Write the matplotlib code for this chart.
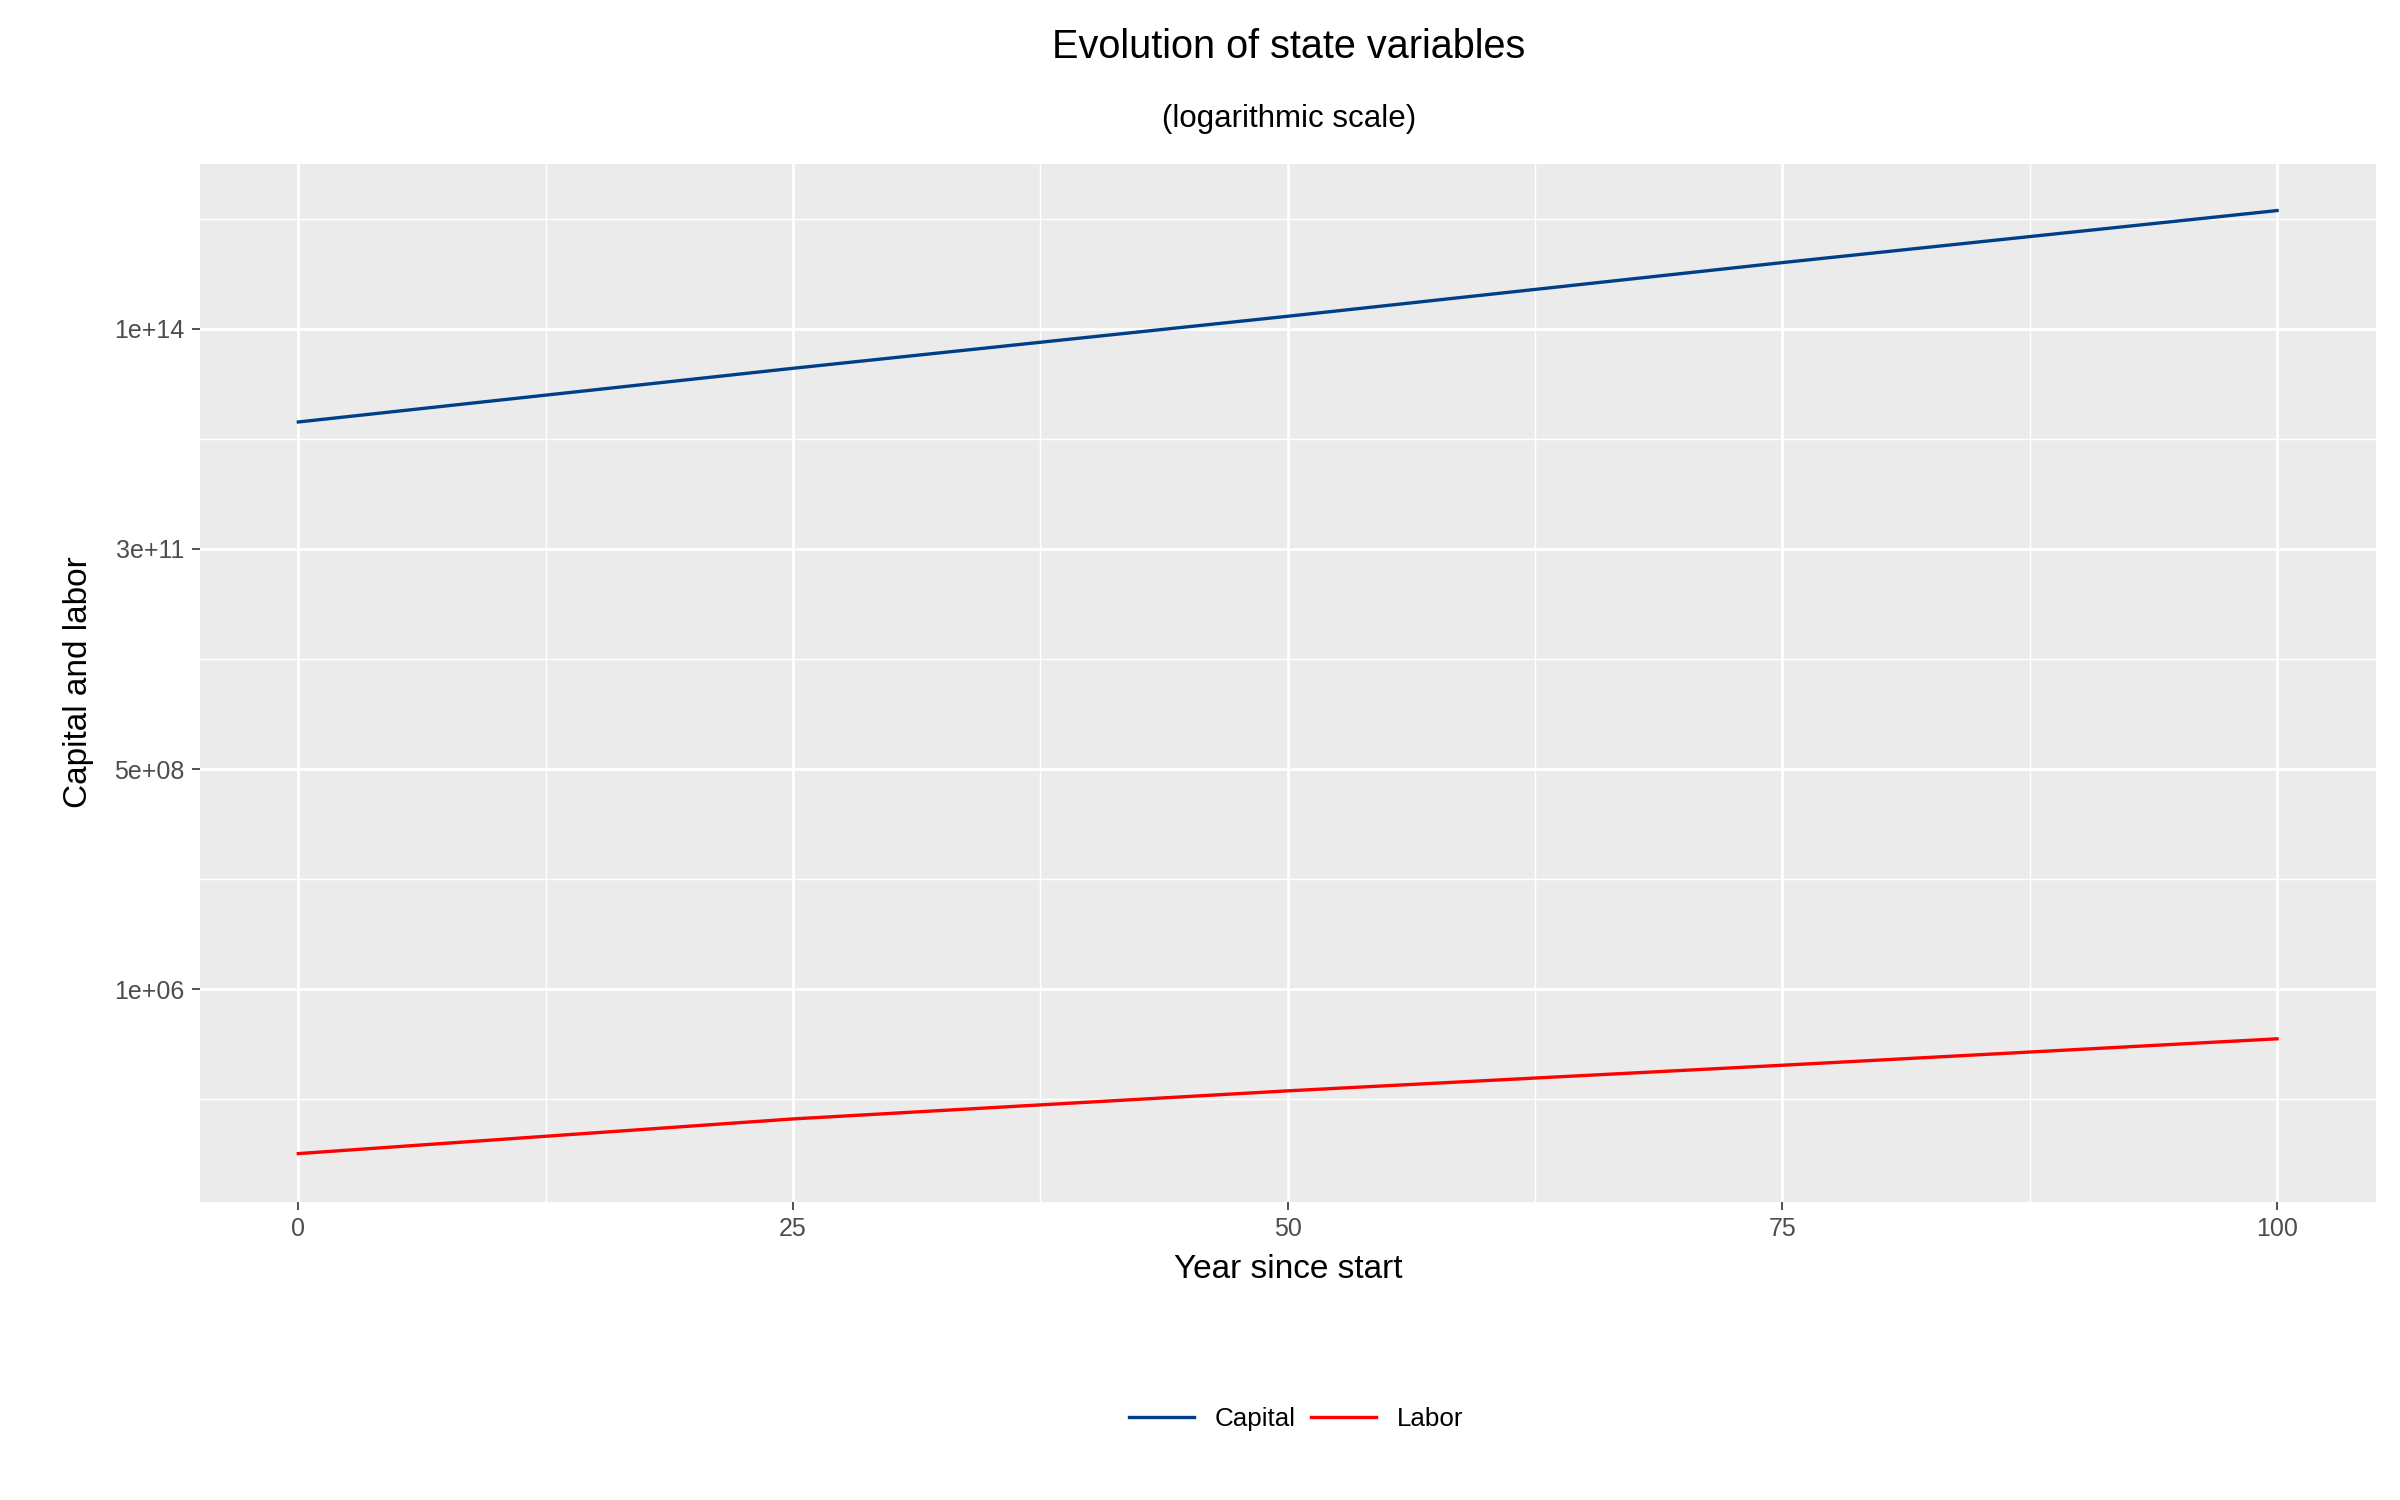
import matplotlib.pyplot as plt
import numpy as np

plt.rcParams['font.family'] = ['Liberation Sans', 'DejaVu Sans']

years = [0, 25, 50, 75, 100]
capital_log10 = [12.87, 13.52, 14.15, 14.80, 15.43]
labor_log10 = [4.01, 4.43, 4.77, 5.08, 5.40]
tick_exps = [6, 6 + 8 / 3, 6 + 16 / 3, 14]
tick_labels = ["1e+06", "5e+08", "3e+11", "1e+14"]

fig = plt.figure(figsize=(16, 10), dpi=150)
ax = fig.add_axes([0.0835, 0.199, 0.9065, 0.692])
ax.set_facecolor("#EBEBEB")
ax.set_yscale("log")

ax.plot(years, 10 ** np.array(capital_log10), color="#003F87", lw=1.6, label="Capital")
ax.plot(years, 10 ** np.array(labor_log10), color="#FF0000", lw=1.6, label="Labor")

ax.set_xlim(-4.95, 105)
ax.set_ylim(10 ** 3.43, 10 ** 16.0)
ax.set_xticks([0, 25, 50, 75, 100])
ax.set_xticks([12.5, 37.5, 62.5, 87.5], minor=True)
ax.set_yticks([10 ** e for e in tick_exps])
ax.set_yticklabels(tick_labels)
mids = [10 ** (e + 4 / 3) for e in [6 - 8 / 3] + tick_exps]
ax.set_yticks(mids, minor=True)
ax.yaxis.set_minor_formatter(plt.NullFormatter())
ax.grid(which="major", color="white", lw=1.3)
ax.grid(which="minor", color="white", lw=0.7)
ax.set_axisbelow(True)
for s in ax.spines.values():
    s.set_visible(False)
ax.tick_params(which="major", length=4, color="#333333", labelsize=12, labelcolor="#4D4D4D")
ax.tick_params(which="minor", length=0)

ax.set_xlabel("Year since start", fontsize=16, labelpad=6)
ax.set_ylabel("Capital and labor", fontsize=16, labelpad=10)
fig.text(0.537, 0.969, "Evolution of state variables", ha="center", va="center", fontsize=19)
fig.text(0.537, 0.921, "(logarithmic scale)", ha="center", va="center", fontsize=15)

leg = fig.legend(loc="center", bbox_to_anchor=(0.54, 0.054), ncol=2, frameon=False,
                 fontsize=12.5, handlelength=2.5, columnspacing=0.6, handletextpad=0.8)
for h in leg.legend_handles:
    h.set_path_effects([])
fig.savefig("out.png")
